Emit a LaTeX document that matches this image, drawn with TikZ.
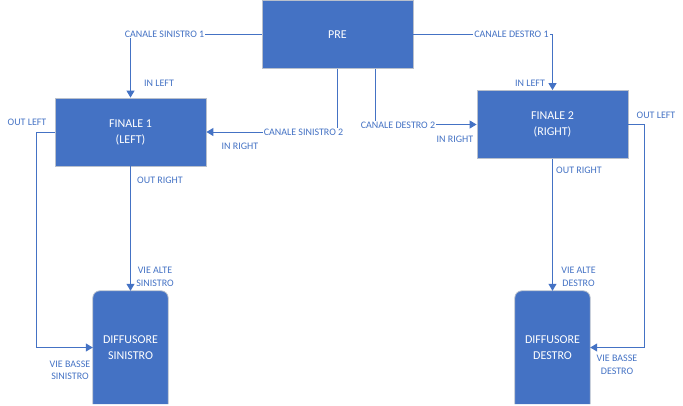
\documentclass[tikz,border=0pt]{standalone}
\usepackage{fontspec}
\setmainfont{Carlito}
\definecolor{boxblue}{RGB}{68, 114, 196}
\definecolor{wireblue}{RGB}{68, 114, 196}
\definecolor{edgegray}{RGB}{185, 192, 204}
\usetikzlibrary{arrows.meta, positioning, backgrounds}

\begin{document}
\begin{tikzpicture}[x=1pt, y=-1pt,
  block/.style={fill=boxblue, draw=edgegray, line width=0.8pt, text=white, font=\fontsize{12}{16}\selectfont, align=center, minimum width=151pt, minimum height=68pt, inner sep=0pt},
  spk/.style={text=white, font=\fontsize{12}{16}\selectfont, align=center, minimum width=75pt, minimum height=113pt, inner sep=0pt},
  spkbody/.style={fill=boxblue, draw=edgegray, line width=0.8pt, rounded corners=7pt},
  wire/.style={wireblue, line width=1pt},
  feed/.style={wire, -{Triangle[length=7pt, width=8pt]}},
  tag/.style={text=wireblue, font=\fontsize{10}{12.5}\selectfont, align=center, inner sep=1pt},
  chan/.style={tag, fill=white}]
  \useasboundingbox (0,0) rectangle (683,405);

  % Blocks
  \node[block] (pre) at (337.5,34.5) {PRE};
  \node[block] (fin1) at (130.5,132) {FINALE 1\\(LEFT)};
  \node[block] (fin2) at (552.5,124.5) {FINALE 2\\(RIGHT)};
  \node[spk] (spkl) at (130.5,347.5) {DIFFUSORE\\SINISTRO};
  \node[spk] (spkr) at (552.5,347.5) {DIFFUSORE\\DESTRO};
  \begin{scope}[on background layer]
    \draw[spkbody] (spkl.south west) -- (spkl.north west) -- (spkl.north east) -- (spkl.south east);
    \draw[spkbody] (spkr.south west) -- (spkr.north west) -- (spkr.north east) -- (spkr.south east);
  \end{scope}

  % Pre to finale 1
  \draw[feed] (pre.west) -| (fin1.north);
  \node[chan] (cs1) at (164.5,34) {CANALE SINISTRO 1};
  \node[tag] (il1) at (159,83) {IN LEFT};
  \draw[feed] (pre.south) |- (fin1.east);
  \node[chan] (cs2) at (303.5,132) {CANALE SINISTRO 2};
  \node[tag] (ir1) at (240,146) {IN RIGHT};

  % Pre to finale 2
  \draw[feed] (pre.east) -| (fin2.north);
  \node[chan] (cd1) at (511.5,34) {CANALE DESTRO 1};
  \node[tag] (il2) at (530,83) {IN LEFT};
  \draw[feed] ([xshift=37.5pt]pre.south) |- (fin2.west);
  \node[chan] (cd2) at (398,125) {CANALE DESTRO 2};
  \node[tag] (ir2) at (455,139) {IN RIGHT};

  % Finale 1 to diffusore sinistro
  \draw[feed] (fin1.south) -- (spkl.north);
  \node[tag] (or1) at (160,180) {OUT RIGHT};
  \node[tag] (va1) at (155,277) {VIE ALTE\\SINISTRO};
  \draw[feed] (fin1.west) -- ++(-18,0) |- (spkl.west);
  \node[tag] (ol1) at (27,122) {OUT LEFT};
  \node[tag] (vb1) at (70,370.5) {VIE BASSE\\SINISTRO};

  % Finale 2 to diffusore destro
  \draw[feed] (fin2.south) -- (spkr.north);
  \node[tag] (or2) at (579,170) {OUT RIGHT};
  \node[tag] (va2) at (578.5,277) {VIE ALTE\\DESTRO};
  \draw[feed] (fin2.east) -- ++(16,0) |- (spkr.east);
  \node[tag] (ol2) at (656,115) {OUT LEFT};
  \node[tag] (vb2) at (617,365) {VIE BASSE\\DESTRO};
\end{tikzpicture}
\end{document}
